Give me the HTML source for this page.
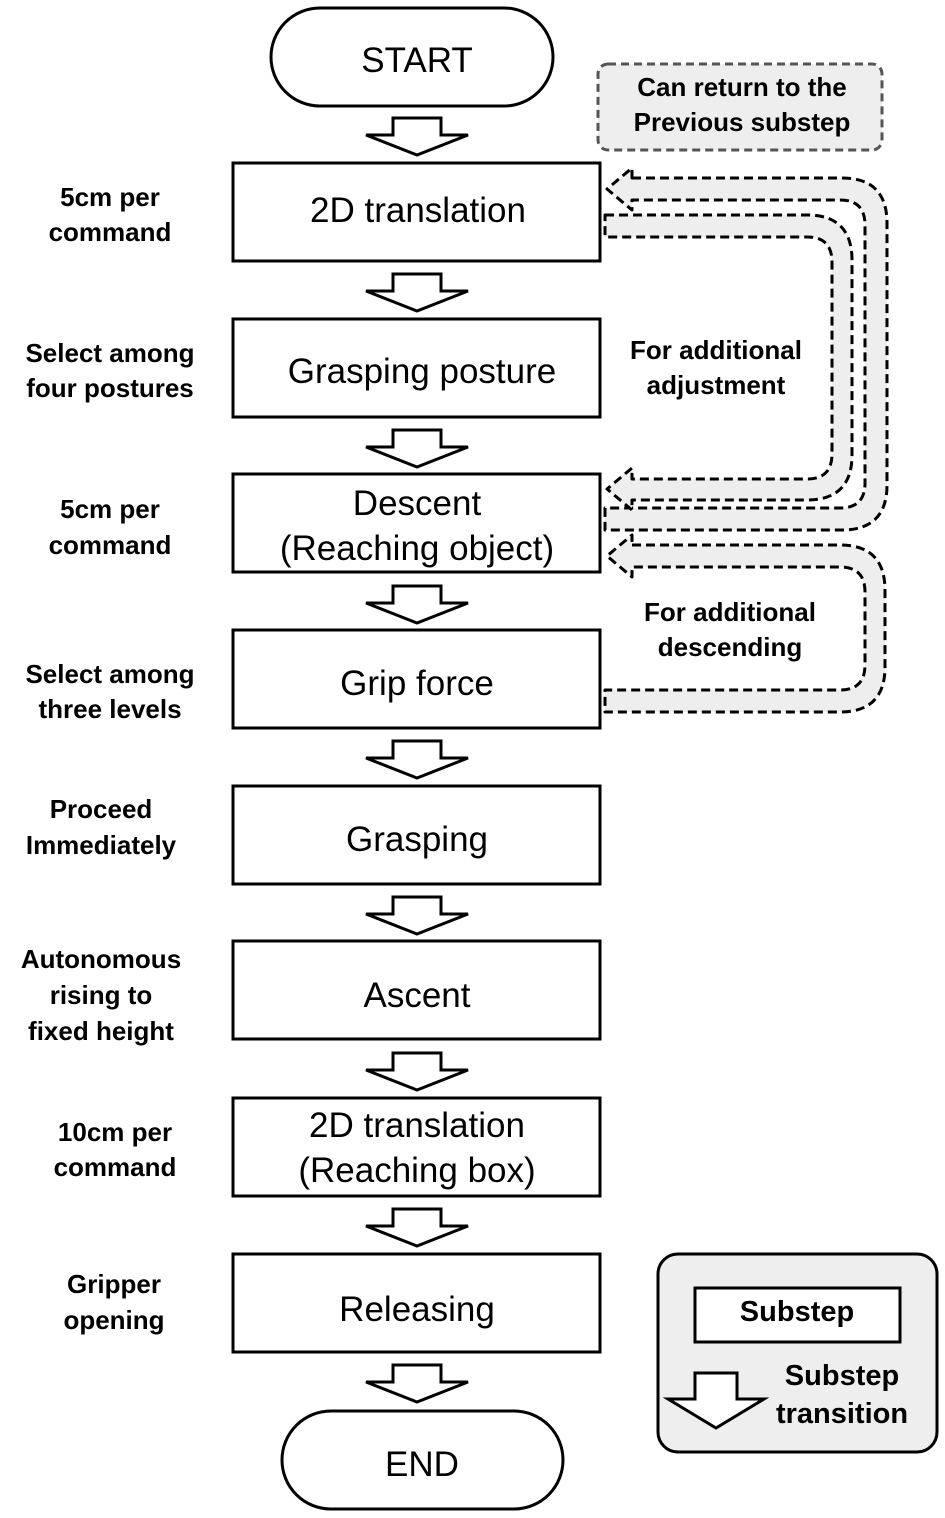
<!DOCTYPE html>
<html><head><meta charset="utf-8"><style>
html,body{margin:0;padding:0;background:#fff}
svg{display:block}
.b{font-family:"Liberation Sans",sans-serif;font-weight:bold;font-size:26px;fill:#000}
.r{font-family:"Liberation Sans",sans-serif;font-size:35px;fill:#000}
</style></head><body>
<svg width="945" height="1518" viewBox="0 0 945 1518" xmlns="http://www.w3.org/2000/svg">
<defs>
<g id="ba"><path d="M-24 0 H24 V17 H51 L0 37 L-51 17 H-24 Z" fill="#fff" stroke="#000" stroke-width="3" stroke-linejoin="miter"/></g>
</defs>
<g fill="#fff" stroke="#000" stroke-width="3">
<rect x="271" y="8" width="282" height="98" rx="49"/>
<rect x="282" y="1411" width="281" height="98" rx="49"/>
<rect x="233" y="163" width="367" height="98"/>
<rect x="233" y="319" width="367" height="98"/>
<rect x="233" y="474" width="367" height="98"/>
<rect x="233" y="630" width="367" height="98"/>
<rect x="233" y="786" width="367" height="98"/>
<rect x="233" y="941" width="367" height="98"/>
<rect x="233" y="1098" width="367" height="98"/>
<rect x="233" y="1254" width="367" height="98"/>
</g>
<use href="#ba" x="417" y="118"/>
<use href="#ba" x="417" y="274"/>
<use href="#ba" x="417" y="430"/>
<use href="#ba" x="417" y="586"/>
<use href="#ba" x="417" y="741"/>
<use href="#ba" x="417" y="897"/>
<use href="#ba" x="417" y="1053"/>
<use href="#ba" x="417" y="1209"/>
<use href="#ba" x="417" y="1365"/>
<g text-anchor="middle" class="r">
<text x="417" y="72" class="r">START</text>
<text x="418" y="222" class="r">2D translation</text>
<text x="422" y="383" class="r">Grasping posture</text>
<text x="417" y="515" class="r">Descent</text>
<text x="417" y="560" class="r">(Reaching object)</text>
<text x="417" y="695" class="r">Grip force</text>
<text x="417" y="851" class="r">Grasping</text>
<text x="417" y="1007" class="r">Ascent</text>
<text x="417" y="1137" class="r">2D translation</text>
<text x="417" y="1182" class="r">(Reaching box)</text>
<text x="417" y="1321" class="r">Releasing</text>
<text x="422" y="1476" class="r">END</text>
</g>
<g text-anchor="middle">
<text x="110" y="206" class="b">5cm per</text>
<text x="110" y="241" class="b">command</text>
<text x="110" y="362" class="b">Select among</text>
<text x="110" y="397" class="b">four postures</text>
<text x="110" y="518" class="b">5cm per</text>
<text x="110" y="554" class="b">command</text>
<text x="110" y="683" class="b">Select among</text>
<text x="110" y="718" class="b">three levels</text>
<text x="101" y="818" class="b">Proceed</text>
<text x="101" y="854" class="b">Immediately</text>
<text x="101" y="968" class="b">Autonomous</text>
<text x="101" y="1004" class="b">rising to</text>
<text x="101" y="1040" class="b">fixed height</text>
<text x="115" y="1141" class="b">10cm per</text>
<text x="115" y="1176" class="b">command</text>
<text x="114" y="1293" class="b">Gripper</text>
<text x="114" y="1329" class="b">opening</text>
<text x="716" y="359" class="b">For additional</text>
<text x="716" y="394" class="b">adjustment</text>
<text x="730" y="621" class="b">For additional</text>
<text x="730" y="656" class="b">descending</text>
</g>
<rect x="598" y="64" width="284" height="86" rx="10" fill="#eee" stroke="#555" stroke-width="3" stroke-dasharray="8 5"/>
<text x="742" y="96" text-anchor="middle" class="b">Can return to the</text>
<text x="742" y="131" text-anchor="middle" class="b">Previous substep</text>
<g fill="#eee" stroke="#000" stroke-width="3" stroke-dasharray="9 5" stroke-linejoin="round">
<path d="M632 178 L842 178 Q887 178 887 223 L887 485 Q887 530 842 530 L605 530 L605 508 L840 508 Q865 508 865 483 L865 225 Q865 200 840 200 L632 200 L632 210 L607 189 L632 168 Z"/>
<path d="M605 215 L807 215 Q852 215 852 260 L852 455 Q852 500 807 500 L632 500 L632 510 L607 489 L632 468 L632 479 L807 479 Q832 479 832 454 L832 262 Q832 237 807 237 L605 237 Z"/>
<path d="M632 545 L840 545 Q885 545 885 590 L885 667 Q885 712 840 712 L605 712 L605 690 L840 690 Q865 690 865 665 L865 592 Q865 567 840 567 L632 567 L632 577 L607 556 L632 535 Z"/>
</g>
<rect x="658" y="1254" width="279" height="198" rx="20" fill="#eee" stroke="#000" stroke-width="3"/>
<rect x="695" y="1288" width="205" height="54" fill="#fff" stroke="#000" stroke-width="3"/>
<text x="797" y="1321" text-anchor="middle" class="b" style="font-size:29px">Substep</text>
<text x="842" y="1385" text-anchor="middle" class="b" style="font-size:29px">Substep</text>
<text x="842" y="1423" text-anchor="middle" class="b" style="font-size:29px">transition</text>
<path d="M695 1373 H737 V1399 H764 L716 1428 L668 1399 H695 Z" fill="#fff" stroke="#000" stroke-width="3"/>
</svg>
</body></html>
